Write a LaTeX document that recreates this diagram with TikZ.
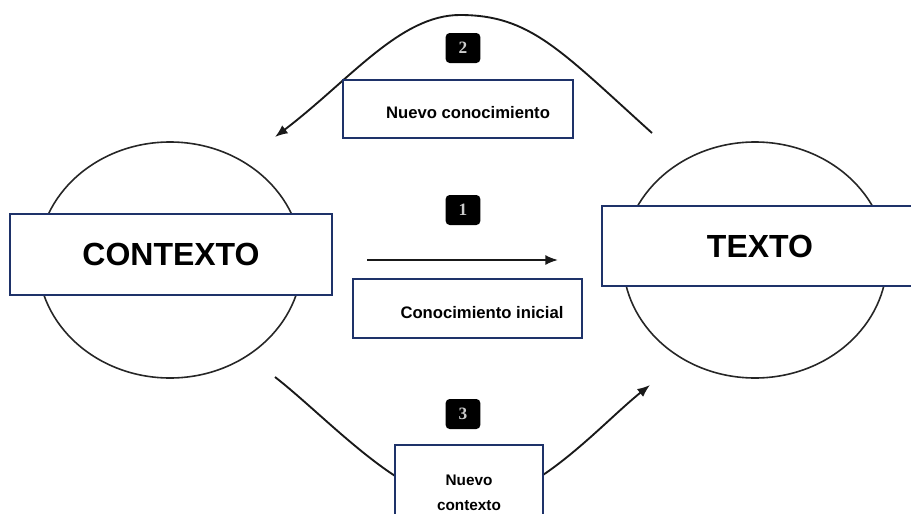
\documentclass[tikz,border=0pt]{standalone}
\usepackage{fontspec}
\setmainfont{Liberation Sans}
\newfontfamily\numfont{Liberation Serif}
\usetikzlibrary{shapes.geometric,arrows.meta}
\definecolor{boxblue}{RGB}{30,50,105}
\tikzset{
	oval/.style={draw=black!85, line width=1.2pt, ellipse, inner sep=0pt, minimum width=198pt, minimum height=177pt},
	bigbox/.style={draw=boxblue, line width=1.5pt, fill=white, inner sep=0pt, font=\fontsize{24}{28}\selectfont\bfseries},
	notebox/.style={draw=boxblue, line width=1.5pt, fill=white, inner sep=0pt},
	notetext/.style={inner sep=0pt, font=\fontsize{12.5}{15}\selectfont\bfseries},
	badge/.style={fill=black, rounded corners=3pt, minimum width=26pt, minimum height=22.5pt, inner sep=0pt, text=white!80!black, font=\fontsize{13}{13}\numfont\bfseries},
	flow/.style={draw=black!90, line width=1.4pt, -{Latex[length=9.5pt,width=7.5pt]}}
}
\begin{document}
\begin{tikzpicture}[x=0.75pt,y=-0.75pt]
	\useasboundingbox (0,0) rectangle (911,514);
	\clip (0,0) rectangle (911,514);
	\node[oval] (ctxoval) at (170,260) {};
	\node[oval] (txtoval) at (755,260) {};

	% the three paths
	\coordinate (topstart) at (652,133); \coordinate (topend) at (275,137);
	\coordinate (midstart) at (367,260); \coordinate (midend) at (558,260);
	\coordinate (lowstart) at (275,377); \coordinate (lowend) at (650,385);
	\draw[flow] (topstart) .. controls (560,50) and (530,15) .. (460,15) .. controls (400,15) and (350,80) .. (topend);
	\draw[flow] (midstart) -- (midend);
	\draw[flow] (lowstart) .. controls (330,420) and (400,500) .. (468,505) .. controls (536,500) and (600,425) .. (lowend);

	\node[bigbox, minimum width=241.5pt, minimum height=60.75pt] (contexto) at (171,254.5) {CONTEXTO};
	\node[bigbox, minimum width=237pt, minimum height=60pt] (texto) at (760,246) {TEXTO};

	\node[notebox, minimum width=172.5pt, minimum height=43.5pt] (nuevobox) at (458,109) {};
	\node[notetext] (nuevotxt) at (468,113) {Nuevo conocimiento};
	\node[notebox, minimum width=171.75pt, minimum height=44.25pt] (inicialbox) at (467.5,308.5) {};
	\node[notetext] (inicialtxt) at (482,313) {Conocimiento inicial};
	\node[notebox, minimum width=111pt, minimum height=71.25pt, align=center, font=\fontsize{11.5}{18.75}\selectfont\bfseries] (contextobox) at (469,492.5) {Nuevo\\contexto};

	\node[badge] (one) at (463,210) {1};
	\node[badge] (two) at (463,48) {2};
	\node[badge] (three) at (463,414) {3};
\end{tikzpicture}
\end{document}
